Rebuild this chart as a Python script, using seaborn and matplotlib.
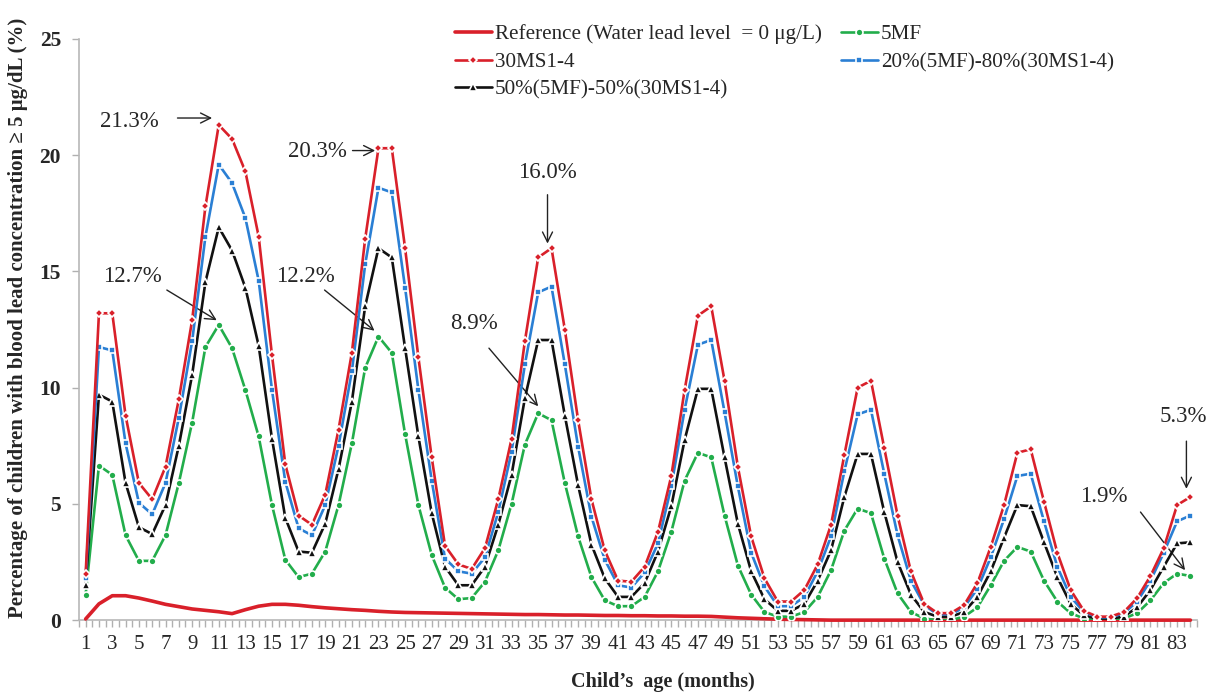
import numpy as np
import seaborn as sns
import matplotlib.pyplot as plt

# child's age in months
months = np.arange(1, 85)

# percentage of children with blood lead >= 5 ug/dL
reference = [0.05, 0.7, 1.05, 1.05, 0.95, 0.82, 0.68, 0.58, 0.48, 0.42,
             0.36, 0.28, 0.45, 0.6, 0.68, 0.68, 0.64, 0.58, 0.53, 0.49,
             0.45, 0.42, 0.38, 0.35, 0.33, 0.32, 0.31, 0.3, 0.29, 0.28,
             0.27, 0.26, 0.25, 0.24, 0.24, 0.23, 0.22, 0.22, 0.21, 0.2,
             0.2, 0.19, 0.19, 0.18, 0.18, 0.17, 0.17, 0.16, 0.13, 0.1,
             0.08, 0.06, 0.04, 0.03, 0.02, 0.01, 0, 0, 0, 0,
             0, 0, 0, 0, 0, 0, 0, 0, 0, 0,
             0, 0, 0, 0, 0, 0, 0, 0, 0, 0,
             0, 0, 0, 0]
ms30 = [2.0, 13.2, 13.2, 8.8, 5.9, 5.2, 6.6, 9.5, 12.9, 17.8,
        21.3, 20.7, 19.3, 16.5, 11.4, 6.7, 4.5, 4.1, 5.4, 8.2,
        11.5, 16.4, 20.3, 20.3, 16.0, 11.3, 7.0, 3.2, 2.4, 2.2,
        3.1, 5.2, 7.8, 12.0, 15.6, 16.0, 12.5, 8.6, 5.2, 3.0,
        1.7, 1.65, 2.3, 3.8, 6.2, 9.9, 13.1, 13.5, 10.3, 6.6,
        3.6, 1.8, 0.8, 0.8, 1.3, 2.4, 4.1, 7.1, 10.0, 10.3,
        7.4, 4.5, 2.1, 0.7, 0.3, 0.3, 0.65, 1.6, 3.15, 4.95,
        7.2, 7.35, 5.1, 2.9, 1.3, 0.4, 0.15, 0.15, 0.35, 0.95,
        1.9, 3.1, 4.95, 5.3]
mix_20_80 = [1.8, 11.75, 11.6, 7.6, 5.05, 4.55, 5.9, 8.7, 12.0, 16.5,
             19.6, 18.8, 17.3, 14.6, 9.9, 5.95, 3.95, 3.65, 4.95, 7.5,
             10.7, 15.3, 18.6, 18.4, 14.3, 9.9, 6.0, 2.65, 2.1, 2.0,
             2.7, 4.65, 7.25, 11.0, 14.1, 14.35, 11.0, 7.45, 4.45, 2.6,
             1.5, 1.4, 2.05, 3.3, 5.75, 9.05, 11.85, 12.05, 8.95, 5.75,
             2.9, 1.45, 0.6, 0.6, 1.0, 2.1, 3.6, 6.4, 8.85, 9.05,
             6.3, 3.65, 1.7, 0.65, 0.25, 0.25, 0.55, 1.35, 2.7, 4.35,
             6.2, 6.3, 4.25, 2.3, 1.0, 0.35, 0.12, 0.12, 0.3, 0.8,
             1.7, 2.9, 4.25, 4.5]
mix_50_50 = [1.5, 9.7, 9.4, 5.9, 4.0, 3.7, 4.95, 7.5, 10.55, 14.55,
             16.9, 15.9, 14.3, 11.8, 7.8, 4.4, 2.95, 2.9, 4.15, 6.5,
             9.4, 13.5, 16.0, 15.6, 11.7, 7.9, 4.6, 2.3, 1.5, 1.5,
             2.3, 4.1, 6.25, 9.55, 12.05, 12.05, 8.8, 5.8, 3.25, 1.8,
             1.0, 1.0, 1.6, 2.95, 4.9, 7.75, 9.95, 9.95, 7.0, 4.15,
             2.1, 0.9, 0.4, 0.4, 0.7, 1.7, 3.0, 5.3, 7.15, 7.15,
             4.65, 2.5, 1.1, 0.35, 0.15, 0.15, 0.35, 1.0, 2.1, 3.55,
             4.95, 4.9, 3.35, 1.85, 0.7, 0.2, 0.07, 0.07, 0.15, 0.55,
             1.3, 2.3, 3.3, 3.35]
mf5 = [1.1, 6.65, 6.25, 3.65, 2.55, 2.55, 3.65, 5.9, 8.5, 11.75,
       12.7, 11.7, 9.9, 7.9, 4.95, 2.6, 1.85, 2.0, 2.95, 4.95,
       7.6, 10.85, 12.2, 11.5, 8.0, 4.95, 2.8, 1.4, 0.9, 0.95,
       1.65, 3.0, 5.0, 7.55, 8.9, 8.6, 5.9, 3.6, 1.85, 0.85,
       0.6, 0.6, 1.0, 2.1, 3.8, 6.0, 7.2, 7.0, 4.5, 2.35,
       1.1, 0.35, 0.15, 0.15, 0.35, 1.0, 2.15, 3.85, 4.8, 4.6,
       2.65, 1.15, 0.35, 0.07, 0.0, 0.0, 0.15, 0.55, 1.5, 2.55,
       3.15, 2.95, 1.7, 0.8, 0.3, 0.07, 0.0, 0.0, 0.07, 0.3,
       0.85, 1.6, 2.0, 1.9]

labels = ["Reference (Water lead level  = 0 μg/L)", "5MF", "30MS1-4",
          "20%(5MF)-80%(30MS1-4)", "50%(5MF)-50%(30MS1-4)"]
legend_order = [0, 2, 4, 1, 3]

# peak callouts: text, text position, arrow tail, arrow tip (data coords)
notes = ["21.3%", "20.3%", "16.0%", "12.7%", "12.2%", "8.9%", "5.3%", "1.9%"]
note_xy = [(4.3, 21.45), (18.4, 20.15), (35.7, 19.25), (4.55, 14.8),
           (17.5, 14.8), (30.15, 12.75), (83.5, 8.75), (77.5, 5.3)]
arrow_from = [(7.9, 21.6), (21.05, 20.2), (35.7, 18.3), (7.1, 14.2),
              (18.95, 14.2), (31.3, 11.7), (83.7, 7.7), (80.25, 4.65)]
arrow_to = [(10.5, 21.6), (22.75, 20.2), (35.7, 16.2), (10.85, 12.9),
            (22.7, 12.45), (35.0, 9.2), (83.7, 5.65), (83.6, 2.15)]

sns.set_style("white")
plt.rcParams['font.family'] = ['Liberation Serif', 'DejaVu Serif']

fig, ax = plt.subplots(figsize=(12.19, 6.96), dpi=100)
fig.subplots_adjust(left=0.0648, right=0.982, bottom=0.109, top=0.944)

red = "#d9202a"
sns.lineplot(x=months, y=reference, ax=ax, color=red, linewidth=2.6,
             label=labels[0], clip_on=False, zorder=3)
sns.lineplot(x=months, y=mf5, ax=ax, color="#22ad4b", linewidth=1.9,
             marker="o", markersize=5, markeredgecolor="white",
             markeredgewidth=1.2, label=labels[1], zorder=4)
sns.lineplot(x=months, y=mix_50_50, ax=ax, color="#111111", linewidth=1.9,
             marker="^", markersize=5.5, markeredgecolor="white",
             markeredgewidth=1.2, label=labels[4], zorder=4)
sns.lineplot(x=months, y=mix_20_80, ax=ax, color="#2a7fd4", linewidth=1.9,
             marker="s", markersize=4.5, markeredgecolor="white",
             markeredgewidth=1.2, label=labels[3], zorder=4)
sns.lineplot(x=months, y=ms30, ax=ax, color=red, linewidth=1.9,
             marker="D", markersize=4.5, markeredgecolor="white",
             markeredgewidth=1.2, label=labels[2], zorder=4)

ax.set_xlim(0.5, 84.5)
ax.set_ylim(0, 25)
ax.set_yticks(range(0, 26, 5))
ax.set_xticks(range(1, 85, 2))
ax.set_xticks(np.arange(0.5, 85, 0.5), minor=True)
for t in ax.get_yticklabels():
    t.set_fontweight("bold")
ax.tick_params(axis="y", labelsize=15.5, length=5, width=1, color="#b0b0b0",
               left=True, direction="out", pad=8)
ax.tick_params(axis="x", which="both", length=5, width=1, color="#b0b0b0",
               bottom=True, direction="out")
ax.tick_params(axis="x", which="major", labelsize=15, pad=6)

sns.despine(ax=ax)
for side in ["left", "bottom"]:
    ax.spines[side].set_color("#b8b8b8")
    ax.spines[side].set_linewidth(1.2)

ax.set_ylabel("Percentage of children with blood lead concentration ≥ 5 μg/dL (%)",
              fontsize=15, fontweight="bold")
ax.yaxis.set_label_coords(-0.046, 0.52)
ax.set_xlabel("Child’s  age (months)", fontsize=14.5, fontweight="bold")
ax.xaxis.set_label_coords(0.522, -0.09)

for txt, pos, tail, tip in zip(notes, note_xy, arrow_from, arrow_to):
    ax.text(pos[0], pos[1], txt, fontsize=16.5, ha="center", va="center")
    ax.annotate("", xy=tip, xytext=tail,
                arrowprops=dict(arrowstyle="->", color="#222222", lw=1,
                                mutation_scale=18, shrinkA=0, shrinkB=0))

handles, names = ax.get_legend_handles_labels()
lookup = dict(zip(names, handles))
ax.legend([lookup[labels[i]] for i in legend_order],
          [labels[i] for i in legend_order],
          ncol=2, loc="upper left", bbox_to_anchor=(0.373, 0.965),
          bbox_transform=fig.transFigure, frameon=False, fontsize=15.2,
          handlelength=1.75, handletextpad=0.15, columnspacing=0.9,
          labelspacing=0.38, borderpad=0, borderaxespad=0)

plt.savefig("out.png", dpi=100)
